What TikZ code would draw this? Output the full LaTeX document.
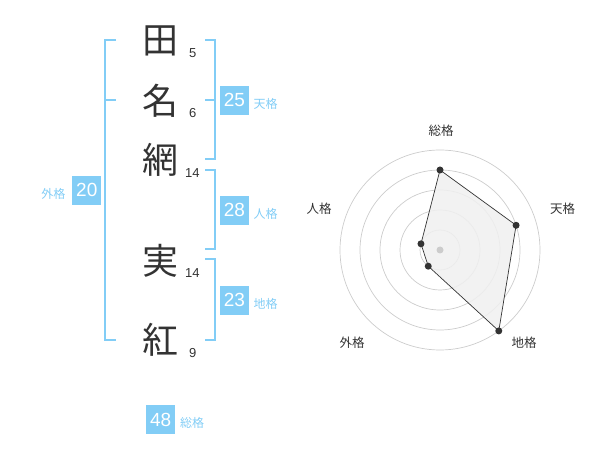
\documentclass[tikz,border=0pt]{standalone}
\usepackage{fontspec}
\setmainfont{Liberation Sans}
\newfontfamily\cjk{Noto Sans CJK JP}
\definecolor{lblue}{HTML}{82CDF6}
\definecolor{dgray}{HTML}{333333}
\definecolor{cgray}{HTML}{CCCCCC}
\definecolor{pfill}{HTML}{F0F0F0}
\begin{document}
\begin{tikzpicture}[x=1pt,y=-1pt,
  kanji/.style={inner sep=0pt,text=dgray,font=\cjk\fontsize{36}{36}\selectfont},
  stroke/.style={inner sep=0pt,text=dgray,font=\fontsize{13}{13}\selectfont},
  numbox/.style={fill=lblue,text=white,minimum width=28.7pt,minimum height=28.7pt,inner sep=0pt,font=\fontsize{19}{19}\selectfont},
  kaku/.style={inner sep=0pt,text=lblue,font=\cjk\fontsize{12}{12}\selectfont},
  brk/.style={draw=lblue,line width=2pt},
  ring/.style={draw=cgray,line width=0.7pt},
  rlabel/.style={inner sep=0pt,text=dgray,font=\cjk\fontsize{12.5}{12.5}\selectfont},
  rdot/.style={circle,fill=dgray,inner sep=0pt,minimum size=7pt}]
\useasboundingbox (0,0) rectangle (600,470);
% name characters
\node[kanji] (c1) at (160.3,41.3) {田};
\node[kanji] (c2) at (160.3,100.7) {名};
\node[kanji] (c3) at (160.3,160) {網};
\node[kanji] (c4) at (160.3,260.8) {実};
\node[kanji] (c5) at (160.3,340) {紅};
\node[stroke] (s1) at (192.7,52.7) {5};
\node[stroke] (s2) at (192.7,112.7) {6};
\node[stroke] (s3) at (192.3,173.3) {14};
\node[stroke] (s4) at (192.3,272.7) {14};
\node[stroke] (s5) at (192.7,353.3) {9};
% brackets
\draw[brk] (116,40) -- (105,40) -- (105,340) -- (116,340);
\draw[brk] (105,100) -- (116,100);
\draw[brk] (205,40) -- (215,40) -- (215,159.3) -- (205,159.3);
\draw[brk] (205,100) -- (215,100);
\draw[brk] (205,170) -- (215,170) -- (215,249.3) -- (205,249.3);
\draw[brk] (205,259.3) -- (215,259.3) -- (215,340) -- (205,340);
% boxes
\node[numbox] (b25) at (234.5,100.3) {25};
\node[kaku] (k25) at (265.7,104) {天格};
\node[numbox] (b28) at (234.5,210.3) {28};
\node[kaku] (k28) at (265.7,214) {人格};
\node[numbox] (b23) at (234.5,300.3) {23};
\node[kaku] (k23) at (265.7,304) {地格};
\node[numbox] (b20) at (86.8,190.3) {20};
\node[kaku] (k20) at (53.3,194) {外格};
\node[numbox] (b48) at (160.7,419.5) {48};
\node[kaku] (k48) at (192,423) {総格};
% radar
\begin{scope}[shift={(440,250)}]
  \foreach \r in {20,40,60,80,100} \draw[ring] (0,0) circle[radius=\r];
  \coordinate (pS) at (90:-80);
  \coordinate (pT) at (-18:80);
  \coordinate (pC) at (54:100);
  \coordinate (pG) at (126:20);
  \coordinate (pJ) at (198:20);
  \filldraw[fill=pfill,fill opacity=0.85,draw=dgray,line width=0.7pt] (pS) -- (pT) -- (pC) -- (pG) -- (pJ) -- cycle;
  \node[circle,fill=cgray,inner sep=0pt,minimum size=7pt] (ctr) at (0,0) {};
  \foreach \p in {pS,pT,pC,pG,pJ} \node[rdot] at (\p) {};
\end{scope}
\node[rlabel] (lS) at (441,130.7) {総格};
\node[rlabel] (lT) at (562.5,208.5) {天格};
\node[rlabel] (lJ) at (319,208.5) {人格};
\node[rlabel] (lG) at (352,342.5) {外格};
\node[rlabel] (lC) at (524,342.5) {地格};
\end{tikzpicture}
\end{document}
